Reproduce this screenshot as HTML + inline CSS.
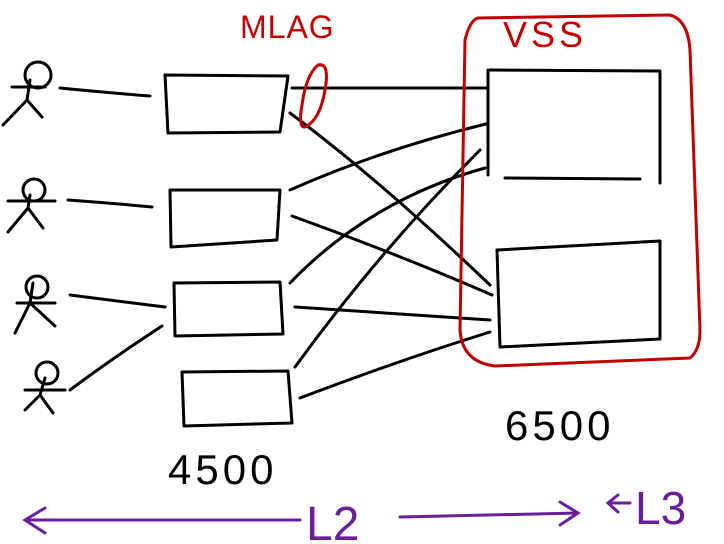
<!DOCTYPE html>
<html><head><style>html,body{margin:0;padding:0;background:#fff;width:724px;height:544px;overflow:hidden}</style></head>
<body>
<svg width="724" height="544" viewBox="0 0 724 544" xmlns="http://www.w3.org/2000/svg">
<g fill="none" stroke="#000" stroke-width="3" stroke-linecap="round" stroke-linejoin="round">
<circle cx="38" cy="75" r="13"/><path d="M12 87 H45 M30 80 L27 100 L3 125 M27 100 L42 117"/>
<circle cx="34" cy="190" r="11"/><path d="M8 201 H55 M30 195 L28 208 L8 232 M28 208 L43 228"/>
<circle cx="37" cy="287" r="11"/><path d="M17 303 H55 M33 283 L30 303 L15 333 M30 303 L55 326"/>
<circle cx="47" cy="373" r="11"/><path d="M25 390 H65 M45 378 L40 395 L25 410 M40 395 L53 413"/>
<path d="M165 75 L288 76 L280 132 L168 133 Z"/>
<path d="M170 190 L280 190 L277 240 L171 247 Z"/>
<path d="M174 283 L280 282 L283 334 L175 336 Z"/>
<path d="M182 372 L288 371 L292 423 L184 426 Z"/>
<path d="M490 70 L660 71 L660 183 M488 70 L488 175 M505 178 L640 179"/>
<path d="M497 250 L660 241 L660 339 L500 347 Z"/>
<path d="M60 88 Q100 92 150 96"/>
<path d="M68 200 Q110 203 152 207"/>
<path d="M70 295 Q110 300 165 307"/>
<path d="M70 390 Q110 360 162 326"/>
<path d="M292 88 L486 88"/>
<path d="M290 113 Q380 180 490 285"/>
<path d="M290 190 Q380 150 486 124"/>
<path d="M292 216 Q400 255 492 295"/>
<path d="M290 283 Q370 200 485 168"/>
<path d="M295 307 L490 320"/>
<path d="M295 367 Q380 250 480 150"/>
<path d="M300 398 Q400 360 490 332"/>
</g>
<g fill="none" stroke="#c00000" stroke-width="3" stroke-linecap="round">
<path d="M478 18 Q470 20 465 40 L460 330 Q462 362 495 366 L690 358 Q700 350 700 330 L690 50 Q688 20 670 15 Z"/>
<path d="M318 65 Q330 62 325 90 Q320 120 305 127 Q298 128 302 105 Q306 75 318 65 Z"/>
</g>
<text x="240" y="38" font-family="Liberation Sans, sans-serif" font-size="32" fill="#c00000" letter-spacing="1">MLAG</text>
<text x="503" y="47" font-family="Liberation Sans, sans-serif" font-size="36" fill="#c00000" letter-spacing="4">VSS</text>
<text x="168" y="484" font-family="Liberation Sans, sans-serif" font-size="42" fill="#000" letter-spacing="4">4500</text>
<text x="505" y="440" font-family="Liberation Sans, sans-serif" font-size="42" fill="#000" letter-spacing="4">6500</text>
<g fill="none" stroke="#6a1f9a" stroke-width="3" stroke-linecap="round">
<path d="M25 520 L300 520 M45 508 L25 520 L45 533"/>
<path d="M400 517 L578 513 M560 502 L578 513 L560 525"/>
<path d="M608 503 L630 503 M618 495 L608 503 L618 512"/>
</g>
<text x="306" y="540" font-family="Liberation Sans, sans-serif" font-size="48" fill="#6a1f9a">L2</text>
<text x="635" y="524" font-family="Liberation Sans, sans-serif" font-size="46" fill="#6a1f9a">L3</text>
</svg>
</body></html>
